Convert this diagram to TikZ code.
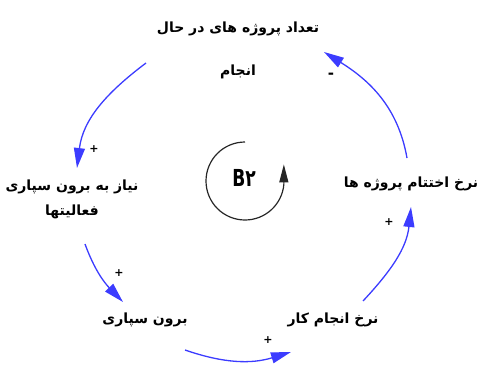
\documentclass[tikz,border=0pt]{standalone}
\usepackage{fontspec}
\usetikzlibrary{arrows.meta,calc}
\TeXXeTstate=1
\newfontfamily\arabicfont[Script=Arabic]{DejaVu Sans}
\definecolor{linkblue}{RGB}{60,60,255}
\begin{document}
\begin{tikzpicture}[x=1pt,y=1pt,
  var/.style={font=\arabicfont\bfseries\fontsize{14}{25}\selectfont, align=center, inner sep=0pt},
  link/.style={draw=linkblue, line width=1.3pt, -{Triangle[length=20pt,width=11pt]}},
  sign/.style={font=\arabicfont\bfseries\fontsize{11}{11}\selectfont, inner sep=0pt}]
\useasboundingbox (0,0) rectangle (481,365);
\node[var, font=\arabicfont\bfseries\fontsize{14}{43}\selectfont] (T) at (238,315)
  {\beginR تعداد پروژه های در حال\endR\\ \beginR انجام\endR};
\node[var] (N) at (72,166) {\beginR نیاز به برون سپاری\endR\\ \beginR فعالیتها\endR};
\node[var] (O) at (145,45) {\beginR برون سپاری\endR};
\node[var] (W) at (333,45) {\beginR نرخ انجام کار\endR};
\node[var] (C) at (411,181) {\beginR نرخ اختتام پروژه ها\endR};
\node[font=\arabicfont\bfseries\fontsize{18}{18}\selectfont, inner sep=0pt] (B) at (244,187) {\scalebox{0.95}[1.3]{B۲}};
\draw[line width=1.2pt, draw=black!85, -{Triangle[length=18pt,width=9pt]}]
  ($(B)+(1,36)$) arc[start angle=90, end angle=355, radius=39] -- ++(0,20);
\draw[link] ($(T)+(-92,-13)$) to[out=217,in=83] ($(N)+(5,31)$);
\draw[link] ($(N)+(13,-45)$) to[out=290,in=134] ($(O)+(-22,18)$);
\draw[link] ($(O)+(40,-30)$) to[out=341,in=197] ($(W)+(-42,-32)$);
\draw[link] ($(W)+(30,19)$) to[out=47,in=264] ($(C)+(0,-23)$);
\draw[link] ($(C)+(-4,26)$) to[out=100,in=328] ($(T)+(86,-2)$);
\node[sign, font=\arabicfont\bfseries\fontsize{15}{15}\selectfont] (s1) at (331,289) {-};
\node[sign] (s2) at (94,216) {+};
\node[sign] (s3) at (119,92) {+};
\node[sign] (s4) at (268,25) {+};
\node[sign] (s5) at (389,143) {+};
\end{tikzpicture}
\end{document}
